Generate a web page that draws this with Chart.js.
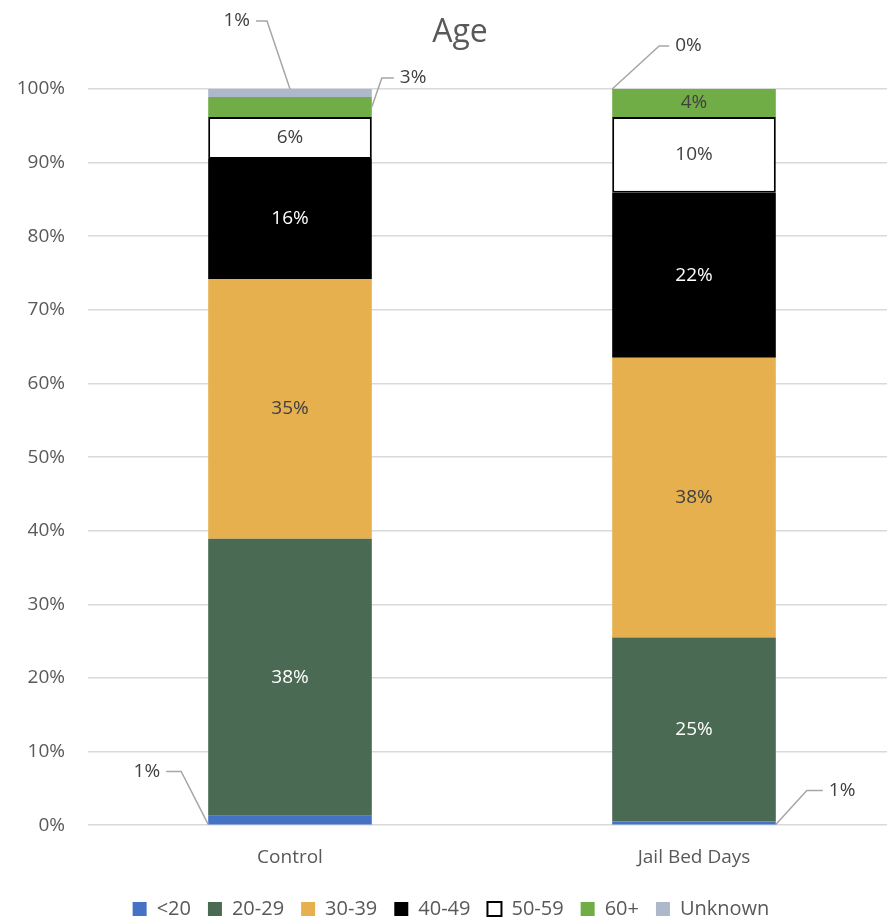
<!DOCTYPE html>
<html>
<head>
<meta charset="utf-8">
<script src="https://cdn.jsdelivr.net/npm/chart.js@4"></script>
<style>
  body { margin: 0; background: #fff; overflow: hidden; }
  #wrap { width: 925px; height: 919px; }
</style>
</head>
<body>
<div id="wrap"><canvas id="ageChart" width="925" height="919"></canvas></div>
<script>
// data (percent of each group)
const groups = ['Control', 'Jail Bed Days'];
const ageBands = ['<20', '20-29', '30-39', '40-49', '50-59', '60+', 'Unknown'];
const under20 = [1.3, 0.5];
const age20s = [37.6, 25.0];
const age30s = [35.3, 38.0];
const age40s = [16.3, 22.4];
const age50s = [5.7, 10.3];
const age60plus = [2.7, 3.8];
const unknown = [1.1, 0.0];
const yTicks = [0, 10, 20, 30, 40, 50, 60, 70, 80, 90, 100];

const bandValues = [under20, age20s, age30s, age40s, age50s, age60plus, unknown];
const fills = ['#4472c4', '#4a6a54', '#e6b04f', '#000000', '#ffffff', '#70ad47', '#adb9ca'];
const labelColors = ['#fff', '#fff', '#404040', '#fff', '#404040', '#404040', '#404040'];

// small segments get a callout with a leader line instead of an inside label
const callouts = {
    '0-0': { anchor: 'bottomLeft', ex: -27, ey: -53, len: 15 },
    '6-0': { anchor: 'topCenter', ex: -23, ey: -68, len: 11 },
    '5-0': { anchor: 'midRight', ex: 10, ey: -29, len: 12 },
    '0-1': { anchor: 'bottomRight', ex: 31, ey: -34, len: 16 },
    '6-1': { anchor: 'topLeft', ex: 47, ey: -43, len: 10 }
};

const FONT = "'Open Sans', 'Liberation Sans', sans-serif";

const labelPlugin = {
    id: 'segLabels',
    afterLayout(chart) {
        // legend in the original sits a little right of centre
        chart.legend.legendHitBoxes.forEach(h => { h.left += 13; });
    },
    afterDatasetsDraw(chart) {
        const ctx = chart.ctx;
        ctx.save();
        ctx.font = '19px ' + FONT;
        chart.data.datasets.forEach((ds, di) => {
            const meta = chart.getDatasetMeta(di);
            meta.data.forEach((bar, i) => {
                const v = ds.data[i];
                const txt = Math.round(v) + '%';
                const key = di + '-' + i;
                const { x, y, base, width } = bar.getProps(['x', 'y', 'base', 'width'], true);
                const left = x - width / 2, right = x + width / 2;
                if (callouts[key]) {
                    const c = callouts[key];
                    let ax, ay;
                    if (c.anchor === 'bottomLeft') { ax = left; ay = base; }
                    else if (c.anchor === 'bottomRight') { ax = right; ay = base; }
                    else if (c.anchor === 'topCenter') { ax = x; ay = y; }
                    else if (c.anchor === 'topLeft') { ax = left; ay = y; }
                    else { ax = right; ay = (y + base) / 2; }
                    const exX = ax + c.ex, exY = ay + c.ey;
                    const dir = c.ex < 0 ? -1 : 1;
                    ctx.strokeStyle = '#a6a6a6';
                    ctx.lineWidth = 1.5;
                    ctx.beginPath();
                    ctx.moveTo(ax, ay);
                    ctx.lineTo(exX, exY);
                    ctx.lineTo(exX + dir * c.len, exY);
                    ctx.stroke();
                    ctx.fillStyle = '#404040';
                    ctx.textBaseline = 'middle';
                    ctx.textAlign = dir < 0 ? 'right' : 'left';
                    ctx.fillText(txt, exX + dir * (c.len + 6), exY);
                } else {
                    ctx.fillStyle = labelColors[di];
                    ctx.textAlign = 'center';
                    ctx.textBaseline = 'middle';
                    ctx.fillText(txt, x, (y + base) / 2);
                }
            });
        });
        // chart title
        ctx.fillStyle = '#595959';
        ctx.font = '32px ' + FONT;
        ctx.textAlign = 'center';
        ctx.textBaseline = 'middle';
        ctx.fillText('Age', 460, 33);
        ctx.restore();
    }
};

new Chart(document.getElementById('ageChart'), {
    type: 'bar',
    data: {
        labels: groups,
        datasets: ageBands.map((name, i) => ({
            label: name,
            data: bandValues[i],
            backgroundColor: fills[i],
            borderColor: i === 4 ? '#000' : fills[i],
            borderWidth: i === 4 ? 2 : 0,
            borderSkipped: false,
            categoryPercentage: 1,
            barPercentage: 0.405
        }))
    },
    options: {
        responsive: false,
        animation: false,
        events: [],
        layout: { padding: { top: 89, right: 29, left: 6, bottom: -10 } },
        scales: {
            x: {
                stacked: true,
                grid: { display: false },
                border: { display: false },
                ticks: { color: '#595959', font: { family: FONT, size: 19 }, padding: 13 }
            },
            y: {
                stacked: true,
                min: 0,
                max: 100,
                afterBuildTicks: axis => { axis.ticks = yTicks.map(v => ({ value: v })); },
                afterFit: axis => { axis.width = 82; },
                grid: { color: '#d9d9d9', lineWidth: 1.5, drawTicks: false },
                border: { display: false },
                ticks: {
                    color: '#595959',
                    font: { family: FONT, size: 19 },
                    padding: 23,
                    callback: v => v + '%'
                }
            }
        },
        plugins: {
            legend: {
                position: 'bottom',
                labels: {
                    color: '#595959',
                    font: { family: FONT, size: 20 },
                    boxWidth: 14,
                    boxHeight: 14,
                    padding: 17,
                    generateLabels: chart => chart.data.datasets.map((ds, i) => ({
                        text: ds.label,
                        fillStyle: fills[i],
                        strokeStyle: i === 4 ? '#000' : fills[i],
                        lineWidth: i === 4 ? 2 : 0,
                        fontColor: '#595959',
                        datasetIndex: i
                    }))
                }
            },
            tooltip: { enabled: false }
        }
    },
    plugins: [labelPlugin]
});
</script>
</body>
</html>
